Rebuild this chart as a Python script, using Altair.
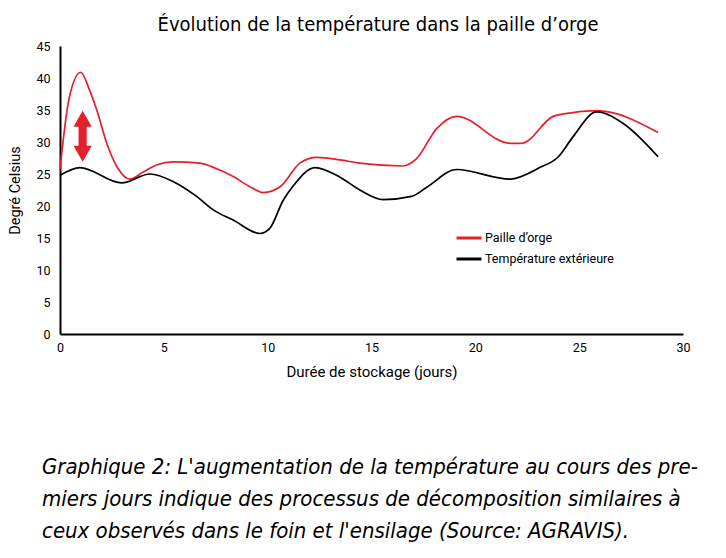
import altair as alt
import pandas as pd

# ---- data ----
series_names = ["Paille d’orge", "Température extérieure"]
series_colors = ["#e5202b", "#000000"]

red_days = [0, 0.45, 1.0, 1.4, 1.77, 2.25, 2.75, 3.37, 4.0, 4.65, 5.45, 6.74, 7.5,
            8.34, 9.1, 9.79, 10.6, 11.55, 12.36, 13.48, 14.44, 16.5, 17.17, 18.14,
            19.1, 21.67, 22.23, 23.75, 24.7, 25.84, 28.8]
red_temp = [25.8, 37.0, 40.9, 38.3, 35.0, 29.8, 26.1, 24.2, 25.3, 26.4, 26.9, 26.7, 25.9,
            24.6, 23.1, 22.1, 23.0, 26.7, 27.6, 27.2, 26.7, 26.25, 27.4, 32.1,
            34.0, 29.8, 29.8, 34.0, 34.6, 34.9, 31.5]

black_days = [0, 0.96, 2.97, 4.33, 5.46, 6.58, 7.38, 8.34, 9.63, 10.1, 10.75, 11.2,
              12.28, 13.48, 14.44, 15.57, 16.93, 17.65, 19.1, 21.67, 23.1, 24.0,
              24.7, 25.84, 27.12, 28.8]
black_temp = [24.8, 26.0, 23.6, 25.0, 23.8, 21.5, 19.4, 17.8, 15.7, 16.5, 20.9, 23.0,
              26.0, 24.5, 22.5, 21.0, 21.5, 22.9, 25.7, 24.2, 26.0, 27.7,
              30.8, 34.7, 32.9, 27.7]

arrow_day = [1.09]
arrow_temp = [30.9]

x_ticks = [0, 5, 10, 15, 20, 25, 30]
y_ticks = [0, 5, 10, 15, 20, 25, 30, 35, 40, 45]

title_text = "Évolution de la température dans la paille d’orge"
x_title = "Durée de stockage (jours)"
y_title = "Degré Celsius"
caption_lines = [
    "Graphique 2: L'augmentation de la température au cours des pre-",
    "miers jours indique des processus de décomposition similaires à",
    "ceux observés dans le foin et l'ensilage (Source: AGRAVIS).",
]

# ---- tables ----
df = pd.concat([
    pd.DataFrame({"jour": red_days, "temp": red_temp, "serie": series_names[0]}),
    pd.DataFrame({"jour": black_days, "temp": black_temp, "serie": series_names[1]}),
])
arrow_df = pd.DataFrame({"jour": arrow_day, "temp": arrow_temp})

FONT_AX = "Roboto, Noto Sans"
FONT_NARROW = "DejaVu Sans Condensed, Roboto"

xscale = alt.Scale(domain=[0, 30], nice=False, zero=False)
yscale = alt.Scale(domain=[0, 45], nice=False)

x_axis = alt.Axis(values=x_ticks, title=x_title,
                  grid=False, ticks=False, tickSize=0, labelPadding=7,
                  labelOverlap=False, labelFlush=False,
                  domainColor="black", domainWidth=2,
                  labelFont=FONT_AX, labelFontSize=12.5, labelColor="black",
                  titleFont=FONT_AX, titleFontSize=15, titleFontWeight="normal",
                  titleColor="black", titlePadding=11)
y_axis = alt.Axis(values=y_ticks, title=y_title,
                  grid=False, ticks=False, tickSize=0, labelPadding=10,
                  labelOverlap=False, labelFlush=False,
                  domainColor="black", domainWidth=2,
                  labelFont=FONT_AX, labelFontSize=12.5, labelColor="black",
                  titleFont=FONT_AX, titleFontSize=14.5, titleFontWeight="normal",
                  titleColor="black", titlePadding=13)

lines = alt.Chart(df).mark_line(interpolate="monotone", strokeWidth=1.7).encode(
    x=alt.X("jour:Q", scale=xscale, axis=x_axis),
    y=alt.Y("temp:Q", scale=yscale, axis=y_axis),
    color=alt.Color("serie:N",
                    scale=alt.Scale(domain=series_names, range=series_colors),
                    legend=alt.Legend(title=None, orient="none", legendX=395, legendY=178,
                                      symbolType="stroke", symbolSize=625,
                                      symbolStrokeWidth=3, rowPadding=-6,
                                      labelFont=FONT_AX, labelFontSize=12.5,
                                      labelColor="black", labelOffset=2)),
    order=alt.Order("jour:Q"),
)

arrow_path = ("M0,-1 L0.36,-0.37 L0.16,-0.37 L0.16,0.37 L0.36,0.37 L0,1 "
              "L-0.36,0.37 L-0.16,0.37 L-0.16,-0.37 L-0.36,-0.37 Z")
arrow = alt.Chart(arrow_df).mark_point(
    shape=arrow_path, size=2601, filled=True, fill="#e5202b", stroke=None,
    opacity=1,
).encode(x=alt.X("jour:Q", scale=xscale, axis=x_axis),
         y=alt.Y("temp:Q", scale=yscale, axis=y_axis))

title = alt.Chart(pd.DataFrame({"t": [title_text]})).mark_text(
    font=FONT_NARROW, fontSize=20, color="black", align="center", baseline="middle",
).encode(text="t:N", x=alt.value(318), y=alt.value(-21))

caption = alt.Chart(pd.DataFrame({"t": ["\n".join(caption_lines)]})).mark_text(
    font=FONT_NARROW, fontSize=22, fontStyle="italic", color="black",
    align="left", baseline="alphabetic", lineBreak="\n", lineHeight=32,
).encode(text="t:N", x=alt.value(-18), y=alt.value(428))

chart = alt.layer(lines, arrow, title, caption).properties(
    width=623, height=288,
    autosize=alt.AutoSizeParams(type="none"),
    padding={"left": 52, "top": 38, "right": 35, "bottom": 216},
    background="white",
).configure_view(stroke=None)

chart.save("out.html", embed_options={"renderer": "svg", "actions": False})
